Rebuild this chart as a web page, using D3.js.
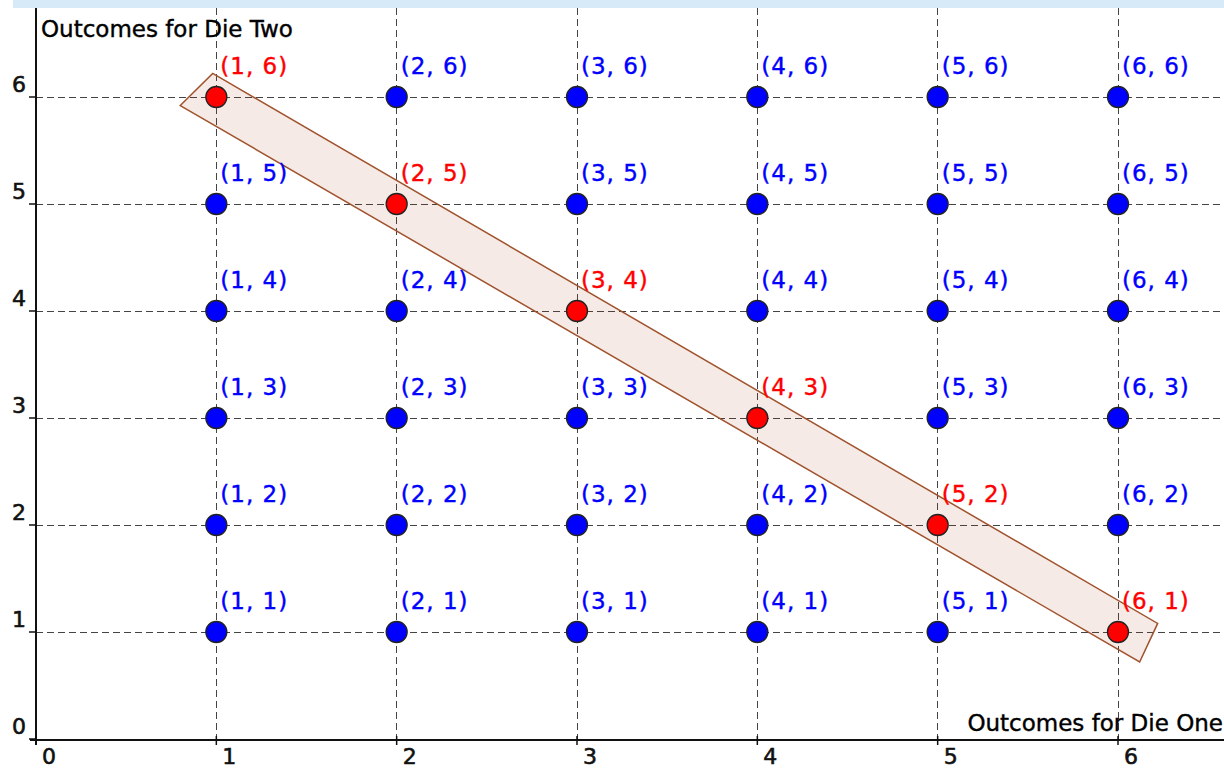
<!DOCTYPE html>
<html>
<head>
<meta charset="utf-8">
<script src="https://cdn.jsdelivr.net/npm/d3@7"></script>
<style>
  html, body { margin: 0; padding: 0; background: #fff; overflow: hidden; }
  svg { display: block; }
  text { font-family: 'DejaVu Sans', sans-serif; }
</style>
</head>
<body>
<div id="chart"></div>
<script>
// outcomes for each die
const dieOne = [1, 2, 3, 4, 5, 6]
const dieTwo = [1, 2, 3, 4, 5, 6]
// outcomes whose sum is 7
const highlighted = [[1, 6], [2, 5], [3, 4], [4, 3], [5, 2], [6, 1]]
// tick labels
const xTicks = [0, 1, 2, 3, 4, 5, 6]
const yTicks = [0, 1, 2, 3, 4, 5, 6]
// highlight band corners (data units)
const band = [[0.8, 5.92], [0.98, 6.22], [6.22, 1.08], [6.12, 0.72]]

const W = 1224, H = 770

const svg = d3.select('#chart').append('svg')
  .attr('width', W).attr('height', H)

const x = d3.scaleLinear().domain([0, 6]).range([36, 1118])
const y = d3.scaleLinear().domain([0, 6]).range([739, 97])

// top strip
svg.append('rect')
  .attr('x', 13).attr('y', 0).attr('width', W - 13).attr('height', 8)
  .attr('fill', '#d6eaf8')

// dashed grid
const grid = svg.append('g')
  .attr('stroke', '#444').attr('stroke-width', 1).attr('stroke-dasharray', '7,4')
  .attr('shape-rendering', 'crispEdges')
grid.selectAll('line.v').data(dieOne).join('line')
  .attr('class', 'v')
  .attr('x1', d => x(d)).attr('x2', d => x(d))
  .attr('y1', 8).attr('y2', y(0))
grid.selectAll('line.h').data(dieTwo).join('line')
  .attr('class', 'h')
  .attr('x1', x(0)).attr('x2', W)
  .attr('y1', d => y(d)).attr('y2', d => y(d))

// highlight band
svg.append('polygon')
  .attr('points', band.map(p => [x(p[0]), y(p[1])].join(',')).join(' '))
  .attr('fill', '#993300').attr('fill-opacity', 0.1)
  .attr('stroke', '#a0522d').attr('stroke-width', 1.5)

// axes
const axes = svg.append('g').attr('stroke', '#111')
axes.append('line')
  .attr('x1', 30).attr('x2', W)
  .attr('y1', y(0) + 1).attr('y2', y(0) + 1)
  .attr('stroke-width', 2)
axes.append('line')
  .attr('x1', x(0)).attr('x2', x(0))
  .attr('y1', 8).attr('y2', y(0) + 6)
  .attr('stroke-width', 2)

axes.selectAll('line.xt').data(xTicks).join('line')
  .attr('class', 'xt')
  .attr('x1', d => x(d)).attr('x2', d => x(d))
  .attr('y1', y(0) - 3).attr('y2', y(0) + 6)
  .attr('stroke-width', 1.5)
axes.selectAll('line.yt').data(yTicks).join('line')
  .attr('class', 'yt')
  .attr('x1', x(0) - 7).attr('x2', x(0))
  .attr('y1', d => y(d)).attr('y2', d => y(d))
  .attr('stroke-width', 1.5)

const tickStyle = sel => sel
  .style('font-size', '22px').attr('fill', '#111')
  .attr('stroke', '#111').attr('stroke-width', 0.6)

svg.selectAll('text.xl').data(xTicks).join('text')
  .attr('class', 'xl')
  .attr('x', d => x(d) + 6).attr('y', 764)
  .call(tickStyle)
  .text(d => d)
svg.selectAll('text.yl').data(yTicks).join('text')
  .attr('class', 'yl')
  .attr('x', x(0) - 10).attr('y', d => y(d) - 5)
  .attr('text-anchor', 'end')
  .call(tickStyle)
  .text(d => d)

// axis titles
svg.append('text')
  .attr('x', 41).attr('y', 37)
  .style('font-size', '23px').attr('fill', '#000')
  .attr('stroke', '#000').attr('stroke-width', 0.4)
  .text('Outcomes for Die Two')
svg.append('text')
  .attr('x', 1223).attr('y', 731)
  .attr('text-anchor', 'end')
  .style('font-size', '23px').attr('fill', '#000')
  .attr('stroke', '#000').attr('stroke-width', 0.4)
  .text('Outcomes for Die One')

// outcome points
const outcomes = d3.cross(dieOne, dieTwo)
const isHit = d => highlighted.some(h => h[0] === d[0] && h[1] === d[1])
const colour = d => isHit(d) ? '#ff0000' : '#0000ff'

svg.append('g').selectAll('circle').data(outcomes).join('circle')
  .attr('cx', d => x(d[0])).attr('cy', d => y(d[1]))
  .attr('r', 10.5)
  .attr('fill', colour)
  .attr('stroke', '#222').attr('stroke-width', 1.3)

svg.append('g').selectAll('text').data(outcomes).join('text')
  .attr('x', d => x(d[0]) + 4).attr('y', d => y(d[1]) - 23)
  .style('font-size', '23px').style('letter-spacing', '1px')
  .attr('fill', colour)
  .attr('stroke', colour).attr('stroke-width', 0.4)
  .text(d => `(${d[0]}, ${d[1]})`)
</script>
</body>
</html>
